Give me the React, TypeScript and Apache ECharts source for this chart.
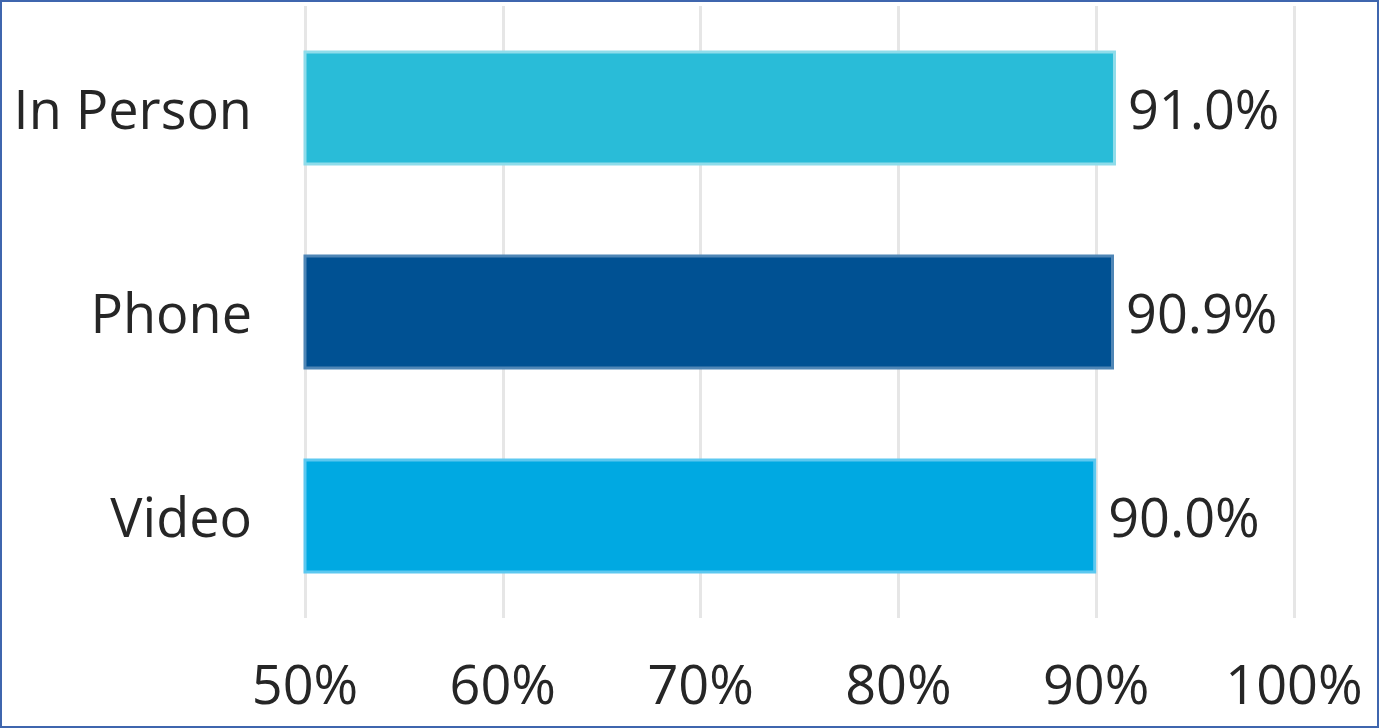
import React, { useEffect, useRef } from "react";
import * as echarts from "echarts";

const categories = ["In Person", "Phone", "Video"];
const values = [91.0, 90.9, 90.0];
const barColors = ["#29BCD8", "#005193", "#00A9E2"];
const barBorders = ["#8FDCEA", "#4F86B6", "#5CC8F0"];
const xTicks = [50, 60, 70, 80, 90, 100];

export default function App() {
  const ref = useRef<HTMLDivElement>(null);
  useEffect(() => {
    document.body.style.margin = "0";
    const chart = echarts.init(ref.current!, null, { renderer: "svg" });
    const font = "Open Sans";
    chart.setOption({
      animation: false,
      backgroundColor: "#ffffff",
      grid: { left: 303, right: 83, top: 4, bottom: 108, containLabel: false },
      xAxis: {
        type: "value",
        min: xTicks[0],
        max: xTicks[xTicks.length - 1],
        interval: 10,
        axisLine: { show: false },
        axisTick: { show: false },
        splitLine: { lineStyle: { color: "#E6E6E6", width: 3 } },
        axisLabel: {
          formatter: (v: number) => `${v}%`,
          color: "#262626",
          fontFamily: font,
          fontSize: 54,
          margin: 38,
        },
      },
      yAxis: {
        type: "category",
        data: categories,
        inverse: true,
        axisLine: { show: false },
        axisTick: { show: false },
        axisLabel: {
          color: "#262626",
          fontFamily: font,
          fontSize: 54,
          margin: 53,
          padding: [0, 0, 6, 0],
        },
      },
      series: [
        {
          type: "bar",
          barWidth: 115,
          data: values.map((v, i) => ({
            value: v,
            itemStyle: { color: barColors[i], borderColor: barBorders[i], borderWidth: 3 },
          })),
          label: {
            show: true,
            position: "right",
            distance: 12,
            color: "#262626",
            fontFamily: font,
            fontSize: 54,
            formatter: (p: any) => `${p.value.toFixed(1)}%`,
          },
        },
      ],
    });
    return () => chart.dispose();
  }, []);
  return (
    <div
      style={{
        position: "fixed",
        left: 0,
        top: 0,
        width: 1379,
        height: 728,
        boxSizing: "border-box",
        border: "2px solid #3F66AE",
        background: "#fff",
      }}
    >
      <div ref={ref} style={{ width: 1375, height: 724 }} />
    </div>
  );
}
